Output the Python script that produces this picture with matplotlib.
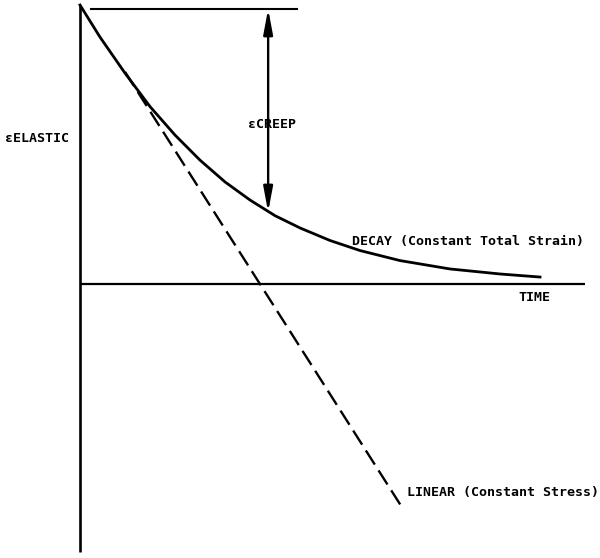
# strain vs time sketch: decay at constant total strain vs linear creep at constant stress
import matplotlib.pyplot as plt

plt.rcParams['lines.scale_dashes'] = False

# time axis in arbitrary units, strain normalised to the elastic strain
decay_t = [0, 0.435, 0.978, 1.522, 2.065, 2.609, 3.152, 3.696, 4.239, 4.783, 5.435,
           6.087, 6.957, 8.043, 9.13, 10.0]
decay_e = [1.0, 0.885, 0.756, 0.636, 0.534, 0.444, 0.366, 0.301, 0.245, 0.201, 0.156,
           0.120, 0.084, 0.054, 0.036, 0.025]

linear_t = [0.98, 6.96]
linear_e = [0.76, -0.79]

time_max = 10.98
strain_min = -0.96
elastic = 1.0
top_line_t = [0.22, 4.74]
top_line_e = 0.986
creep_t = 4.09          # where the creep arrow meets the decay curve
creep_e = 0.258

FONT = dict(family='DejaVu Sans Mono', fontweight='bold', fontsize=9.5, color='black')

fig = plt.figure(figsize=(6.0, 5.58), dpi=100)
ax = fig.add_axes([0, 0, 1, 1])
ax.set_xlim(-1.739, 11.304)
ax.set_ylim(-0.982, 1.018)
ax.axis('off')

# axes
ax.plot([0, 0], [elastic, strain_min], color='black', lw=1.9, solid_capstyle='butt')
ax.plot([0, time_max], [0, 0], color='black', lw=1.6, solid_capstyle='butt')
ax.plot(top_line_t, [top_line_e, top_line_e], color='black', lw=1.5, solid_capstyle='butt')

# curves
ax.plot(decay_t, decay_e, color='black', lw=2.0, solid_joinstyle='round')
ax.plot(linear_t, linear_e, color='black', lw=1.7, dashes=(12, 5))

# creep arrow between elastic level and decay curve
ax.annotate('', xy=(creep_t, creep_e), xytext=(creep_t, top_line_e),
            arrowprops=dict(arrowstyle='<|-|>,head_length=1.5,head_width=0.28',
                            mutation_scale=10, color='black', lw=1.7,
                            shrinkA=0, shrinkB=0))

# labels
ax.text(-1.63, 0.52, '\u03b5ELASTIC', ha='left', va='center', **FONT)
ax.text(3.65, 0.573, '\u03b5CREEP', ha='left', va='center', **FONT)
ax.text(5.91, 0.151, 'DECAY (Constant Total Strain)', ha='left', va='center', **FONT)
ax.text(9.52, -0.05, 'TIME', ha='left', va='center', **FONT)
ax.text(7.11, -0.746, 'LINEAR (Constant Stress)', ha='left', va='center', **FONT)

fig.savefig('out.png', dpi=100, facecolor='white')
